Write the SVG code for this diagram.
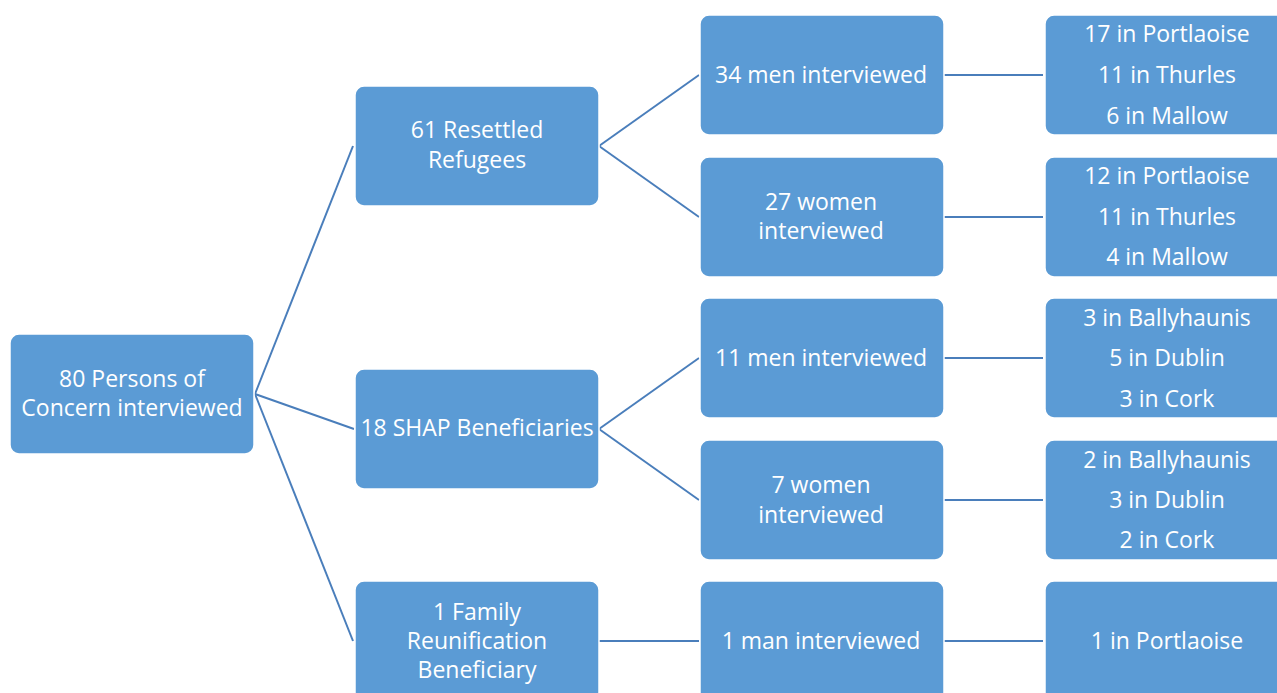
<svg xmlns="http://www.w3.org/2000/svg" width="1277" height="693" viewBox="0 0 1277 693">
<style>
.box{fill:#5B9BD5;stroke:#FFFFFF;stroke-width:1.5}
.t{font-family:"Open Sans","Liberation Sans",sans-serif;font-size:23px;fill:#FFFFFF;text-anchor:middle}
.c{stroke:#4A7EBB;stroke-width:2;fill:none}
</style>
<rect width="1277" height="693" fill="#FFFFFF"/>
<g id="connectors">
<line class="c" x1="255" y1="394" x2="353" y2="146"/>
<line class="c" x1="255" y1="394" x2="354" y2="429"/>
<line class="c" x1="255" y1="394" x2="353" y2="641"/>
<line class="c" x1="599" y1="146" x2="699" y2="75"/>
<line class="c" x1="599" y1="146" x2="699" y2="217"/>
<line class="c" x1="599" y1="429" x2="699" y2="358"/>
<line class="c" x1="599" y1="429" x2="699" y2="500"/>
<line class="c" x1="599" y1="641" x2="699" y2="641"/>
<line class="c" x1="944" y1="75" x2="1043" y2="75"/>
<line class="c" x1="944" y1="217" x2="1043" y2="217"/>
<line class="c" x1="944" y1="358" x2="1043" y2="358"/>
<line class="c" x1="944" y1="500" x2="1043" y2="500"/>
<line class="c" x1="944" y1="641" x2="1043" y2="641"/>
</g>
<g id="root">
<rect class="box" x="10" y="334" width="244" height="120" rx="9"/>
<text class="t" x="132" y="387">80 Persons of</text>
<text class="t" x="132" y="416">Concern interviewed</text>
</g>
<g id="resettled">
<rect class="box" x="355" y="86" width="244" height="120" rx="9"/>
<text class="t" x="477" y="138">61 Resettled</text>
<text class="t" x="477" y="168">Refugees</text>
</g>
<g id="shap">
<rect class="box" x="355" y="369" width="244" height="120" rx="9"/>
<text class="t" x="477" y="436">18 SHAP Beneficiaries</text>
</g>
<g id="family">
<rect class="box" x="355" y="581" width="244" height="120" rx="9"/>
<text class="t" x="477" y="620">1 Family</text>
<text class="t" x="477" y="649">Reunification</text>
<text class="t" x="477" y="678">Beneficiary</text>
</g>
<g id="men34">
<rect class="box" x="700" y="15" width="244" height="120" rx="9"/>
<text class="t" x="821" y="83">34 men interviewed</text>
</g>
<g id="women27">
<rect class="box" x="700" y="157" width="244" height="120" rx="9"/>
<text class="t" x="821" y="210">27 women</text>
<text class="t" x="821" y="239">interviewed</text>
</g>
<g id="men11">
<rect class="box" x="700" y="298" width="244" height="120" rx="9"/>
<text class="t" x="821" y="366">11 men interviewed</text>
</g>
<g id="women7">
<rect class="box" x="700" y="440" width="244" height="120" rx="9"/>
<text class="t" x="821" y="493">7 women</text>
<text class="t" x="821" y="523">interviewed</text>
</g>
<g id="man1">
<rect class="box" x="700" y="581" width="244" height="120" rx="9"/>
<text class="t" x="821" y="649">1 man interviewed</text>
</g>
<g id="loc-men34">
<rect class="box" x="1045" y="15" width="244" height="120" rx="9"/>
<text class="t" x="1167" y="42">17 in Portlaoise</text>
<text class="t" x="1167" y="83">11 in Thurles</text>
<text class="t" x="1167" y="124">6 in Mallow</text>
</g>
<g id="loc-women27">
<rect class="box" x="1045" y="157" width="244" height="120" rx="9"/>
<text class="t" x="1167" y="184">12 in Portlaoise</text>
<text class="t" x="1167" y="225">11 in Thurles</text>
<text class="t" x="1167" y="265">4 in Mallow</text>
</g>
<g id="loc-men11">
<rect class="box" x="1045" y="298" width="244" height="120" rx="9"/>
<text class="t" x="1167" y="326">3 in Ballyhaunis</text>
<text class="t" x="1167" y="366">5 in Dublin</text>
<text class="t" x="1167" y="407">3 in Cork</text>
</g>
<g id="loc-women7">
<rect class="box" x="1045" y="440" width="244" height="120" rx="9"/>
<text class="t" x="1167" y="468">2 in Ballyhaunis</text>
<text class="t" x="1167" y="508">3 in Dublin</text>
<text class="t" x="1167" y="548">2 in Cork</text>
</g>
<g id="loc-man1">
<rect class="box" x="1045" y="581" width="244" height="120" rx="9"/>
<text class="t" x="1167" y="649">1 in Portlaoise</text>
</g>
</svg>
